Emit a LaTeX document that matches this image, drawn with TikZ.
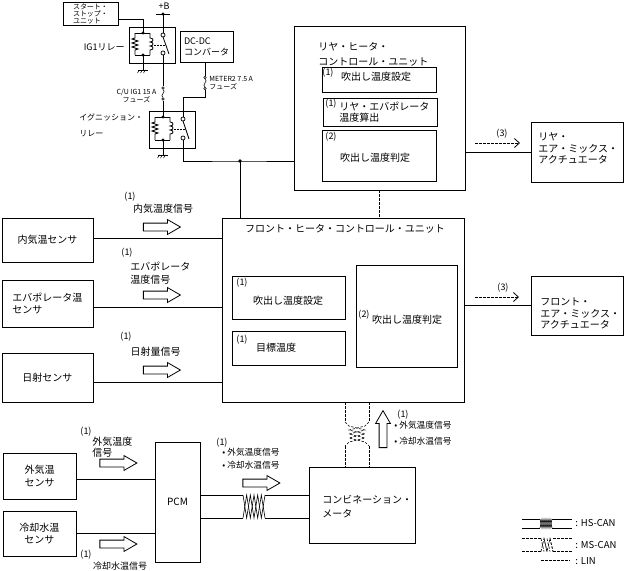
\documentclass[tikz,border=0pt]{standalone}
\usepackage{fontspec}
\setmainfont{Noto Sans CJK JP}
\usetikzlibrary{shapes.arrows}
\usetikzlibrary{arrows.meta}

\begin{document}
\begin{tikzpicture}[x=1pt, y=-1pt, line width=0.8pt, font=\fontsize{10}{12}\selectfont]
	\tikzstyle{boxStyle}=[draw, line width=0.9pt, inner sep=0pt, align=left]
	\tikzstyle{textStyle}=[inner sep=0pt, align=left]
	\tikzstyle{tagStyle}=[inner sep=0pt, font=\fontsize{9}{10}\selectfont]
	\tikzstyle{bulletStyle}=[inner sep=0pt, align=left, font=\fontsize{8.7}{13}\selectfont]
	\tikzstyle{relayText}=[inner sep=0pt, align=left, font=\fontsize{8}{10}\selectfont]
	\tikzstyle{fuseText}=[inner sep=0pt, align=left, font=\fontsize{7}{8}\selectfont]
	\tikzstyle{contactStyle}=[circle, draw, fill=white, inner sep=0pt, minimum size=4pt, line width=0.7pt]
	\tikzstyle{signalArrow}=[draw, single arrow, minimum height=37pt, inner sep=3.5pt, single arrow head extend=3.5pt, single arrow tip angle=60, line width=0.8pt]
	\tikzstyle{linStyle}=[dash pattern=on 2.5pt off 1.5pt]
	\tikzstyle{twistStyle}=[line width=0.6pt]
	\tikzstyle{outArrow}=[linStyle, -{Straight Barb[length=5pt, width=9pt]}]
	\useasboundingbox (0,0) rectangle (625,571);

	% relays
	\foreach \n/\cx/\ty/\by/\sx in {ig1/143/33/55/163, ign/163/117/140/183}{
		\draw[line width=0.9pt] (\cx-14,\ty-6) rectangle (\sx+12,\by+8);
		\coordinate (\n-top) at (\cx,\ty);
		\coordinate (\n-bot) at (\cx,\by);
		\draw (\cx-8,\ty) -- (\cx+7,\ty);
		\draw (\cx-8,\by) -- (\cx+7,\by);
		\draw (\cx-8,\ty) -- (\cx-8,\ty+5) -- (\cx-11,\ty+6) -- (\cx-5,\ty+8) -- (\cx-11,\ty+10) -- (\cx-5,\ty+12) -- (\cx-11,\ty+14) -- (\cx-5,\ty+16) -- (\cx-8,\ty+17) -- (\cx-8,\by);
		\draw (\cx+7,\ty) -- (\cx+7,\ty+5) .. controls (\cx+11,\ty+5) and (\cx+11,\ty+9) .. (\cx+7,\ty+9) .. controls (\cx+11,\ty+9) and (\cx+11,\ty+13) .. (\cx+7,\ty+13) .. controls (\cx+11,\ty+13) and (\cx+11,\ty+17) .. (\cx+7,\ty+17) -- (\cx+7,\by);
		\fill (\n-top) circle (1.6);
		\fill (\n-bot) circle (1.6);
		\draw[dash pattern=on 1.5pt off 1.5pt] (\cx+11,\ty+12) -- (\sx+3,\ty+12);
		\node[contactStyle] (\n-c1) at (\sx,\ty+2) {};
		\node[contactStyle] (\n-c2) at (\sx,\by-2) {};
		\draw (\sx,\ty+4) -- (\sx+6,\by-1);
		\draw (\n-bot) -- (\cx,\by+15);
		\draw (\cx-5,\by+15) -- (\cx+5,\by+15);
		\foreach \h in {0,3,6} \draw[line width=0.5pt] (\cx-3.5+\h,\by+15) -- (\cx-5.5+\h,\by+18);
	}

	% fuses
	\foreach \n/\fx/\fy in {fuseIg/163/88, fuseMeter/205/77.5}{
		\node[contactStyle, minimum size=2.6pt, line width=0.6pt] (\n-a) at (\fx,\fy) {};
		\node[contactStyle, minimum size=2.6pt, line width=0.6pt] (\n-b) at (\fx,\fy+11) {};
		\draw[line width=0.6pt] (\n-a.south) .. controls (\fx+4,\fy+3) and (\fx-4,\fy+8) .. (\n-b.north);
	}

	\node[boxStyle, minimum width=55pt, minimum height=23pt, font=\fontsize{7}{7}\selectfont] (startStop) at (90.5,14) {スタート・\\ストップ・\\ユニット};
	\node[boxStyle, minimum width=53pt, minimum height=31pt, font=\fontsize{9}{11}\selectfont] (dcdc) at (206.5,46.5) {DC-DC\\コンバータ};
	\node[textStyle, font=\fontsize{9}{10}\selectfont, anchor=east] (ig1Label) at (125,47) {IG1リレー};
	\node[relayText, anchor=west] (ignLabel) at (79,125) {イグニッション・\\[6pt]リレー};
	\node[fuseText, align=center] (fuseIgLabel) at (136.5,95.5) {C/U IG1 15 A\\フューズ};
	\node[fuseText, anchor=west] (fuseMeterLabel) at (209,83) {METER2 7.5 A\\フューズ};
	\coordinate (bPlus) at (163,14);
	\node[textStyle, font=\fontsize{9}{10}\selectfont] (bPlusText) at (164,6.5) {+B};
	\draw ([xshift=-7pt]bPlus) -- ([xshift=7pt]bPlus);
	\fill (bPlus) circle (1.6);

	% units
	\node[boxStyle, minimum width=171pt, minimum height=164pt] (rear) at (379.5,108) {};
	\node[textStyle, anchor=west, font=\fontsize{10}{15}\selectfont] (rearTitle) at (318,54.5) {リヤ・ヒータ・\\コントロール・ユニット};
	\node[boxStyle, minimum width=114pt, minimum height=25pt] (rearSet) at (379,79.5) {};
	\node[tagStyle] (rearSetTag) at (328,72.5) {(1)};
	\node[textStyle] (rearSetText) at (376,77) {吹出し温度設定};
	\node[boxStyle, minimum width=114pt, minimum height=28pt] (rearEvap) at (380,112) {};
	\node[tagStyle] (rearEvapTag) at (331,104) {(1)};
	\node[textStyle, anchor=west, font=\fontsize{10}{11}\selectfont] (rearEvapText) at (339,112.5) {リヤ・エバポレータ\\温度算出};
	\node[boxStyle, minimum width=114pt, minimum height=51pt] (rearJudge) at (379,155.5) {};
	\node[tagStyle] (rearJudgeTag) at (331,136.5) {(2)};
	\node[textStyle] (rearJudgeText) at (375,158) {吹出し温度判定};

	\node[boxStyle, minimum width=242pt, minimum height=184pt] (front) at (343,310) {};
	\node[textStyle] (frontTitle) at (345,229) {フロント・ヒータ・コントロール・ユニット};
	\node[boxStyle, minimum width=113pt, minimum height=43pt] (frontSet) at (288.5,297.5) {};
	\node[tagStyle] (frontSetTag) at (242,283) {(1)};
	\node[textStyle] (frontSetText) at (288,301) {吹出し温度設定};
	\node[boxStyle, minimum width=113pt, minimum height=34pt] (frontTarget) at (288.5,348) {};
	\node[tagStyle] (frontTargetTag) at (242,340) {(1)};
	\node[textStyle] (frontTargetText) at (276,348) {目標温度};
	\node[boxStyle, minimum width=101pt, minimum height=102pt] (frontJudge) at (406.5,316) {};
	\node[tagStyle] (frontJudgeTag) at (364,315) {(2)};
	\node[textStyle] (frontJudgeText) at (407,320) {吹出し温度判定};

	\node[boxStyle, minimum width=92pt, minimum height=60pt] (rearMix) at (577,152) {};
	\node[textStyle, anchor=west, font=\fontsize{10}{11.5}\selectfont] (rearMixText) at (538,148.5) {リヤ・\\エア・ミックス・\\アクチュエータ};
	\node[boxStyle, minimum width=92pt, minimum height=59pt] (frontMix) at (577,305.5) {};
	\node[textStyle, anchor=west, font=\fontsize{10}{11.5}\selectfont] (frontMixText) at (540,313.5) {フロント・\\エア・ミックス・\\アクチュエータ};

	% sensors
	\node[boxStyle, minimum width=91pt, minimum height=44pt] (inSensor) at (47.5,240) {内気温センサ};
	\node[boxStyle, minimum width=91pt, minimum height=47pt] (evapSensor) at (47.5,303.5) {エバポレータ温\\センサ};
	\node[boxStyle, minimum width=91pt, minimum height=49pt] (sunSensor) at (47.5,377.5) {日射センサ};
	\node[signalArrow] (inSignal) at (158.5,227) {};
	\node[signalArrow] (evapSignal) at (158.5,295) {};
	\node[signalArrow] (sunSignal) at (158.5,370) {};
	\node[tagStyle] (inSignalTag) at (130,197) {(1)};
	\node[textStyle] (inSignalText) at (163,208.5) {内気温度信号};
	\node[tagStyle] (evapSignalTag) at (127,253) {(1)};
	\node[textStyle, anchor=west, font=\fontsize{10}{13}\selectfont] (evapSignalText) at (130,273.5) {エバポレータ\\温度信号};
	\node[tagStyle] (sunSignalTag) at (126,337) {(1)};
	\node[textStyle] (sunSignalText) at (155.5,352) {日射量信号};

	\node[boxStyle, minimum width=73pt, minimum height=46pt, align=center, font=\fontsize{10}{13}\selectfont] (outSensor) at (39.5,476) {外気温\\センサ};
	\node[boxStyle, minimum width=73pt, minimum height=45pt, align=center] (waterSensor) at (39.5,533.5) {冷却水温\\センサ};
	\node[boxStyle, minimum width=45pt, minimum height=120pt] (pcm) at (177.5,502) {PCM};
	\node[signalArrow] (outSignal) at (115,463) {};
	\node[signalArrow] (waterSignal) at (115,544) {};
	\node[tagStyle] (outSignalTag) at (86,432) {(1)};
	\node[textStyle, anchor=west, font=\fontsize{10}{11}\selectfont] (outSignalText) at (92,447.5) {外気温度\\信号};
	\node[tagStyle] (waterSignalTag) at (86,555) {(1)};
	\node[textStyle, font=\fontsize{9}{10}\selectfont] (waterSignalText) at (120,566.5) {冷却水温信号};

	\node[boxStyle, minimum width=106pt, minimum height=76pt] (meter) at (362,505) {};
	\node[textStyle, anchor=west, font=\fontsize{10}{14}\selectfont] (meterText) at (322,507) {コンビネーション・\\メータ};
	\node[signalArrow] (canSignal) at (258,483) {};
	\node[tagStyle] (canSignalTag) at (222,443) {(1)};
	\node[bulletStyle, anchor=west] (canSignalText) at (222,458.5) {• 外気温度信号\\• 冷却水温信号};
	\node[signalArrow, rotate=90] (meterSignal) at (383,432.5) {};
	\node[tagStyle] (meterSignalTag) at (403,415) {(1)};
	\node[bulletStyle, anchor=west, font=\fontsize{8.7}{16}\selectfont] (meterSignalText) at (394,433) {• 外気温度信号\\• 冷却水温信号};

	% wiring
	\draw (bPlus) -- (ig1-c1.north);
	\draw ([yshift=-5pt]startStop.east) -| (ig1-top);
	\draw (ig1-c2.south) -- (fuseIg-a.north);
	\draw (fuseIg-b.south) -- (ign-top);
	\draw (dcdc.south -| fuseMeter-a) -- (fuseMeter-a.north);
	\coordinate (meterBend) at (205,97);
	\draw (fuseMeter-b.south) -- (meterBend) -| (ign-c1.north);
	\coordinate (ignJoin) at (240,161);
	\draw (ign-c2.south) |- (ignJoin) -- (ignJoin -| rear.west);
	\fill (ignJoin) circle (1.8);
	\draw (ignJoin) -- (ignJoin |- front.north);

	\draw ([yshift=2pt]inSensor.east) -- ([yshift=2pt]inSensor.east -| front.west);
	\draw ([yshift=-3.5pt]evapSensor.east) -- ([yshift=-3.5pt]evapSensor.east -| front.west);
	\draw ([yshift=-4.5pt]sunSensor.east) -- ([yshift=-4.5pt]sunSensor.east -| front.west);
	\draw ([yshift=-3pt]outSensor.east) -- ([yshift=-3pt]outSensor.east -| pcm.west);
	\draw (waterSensor.east) -- (waterSensor.east -| pcm.west);

	\draw (rear.east |- rearMix.west) -- (rearMix.west);
	\draw (front.east |- frontMix.west) -- (frontMix.west);
	\coordinate (rearOutA) at (475,143);
	\coordinate (rearOutB) at (520,143);
	\draw[outArrow] (rearOutA) -- (rearOutB);
	\node[tagStyle] (rearOutTag) at (502,134) {(3)};
	\coordinate (frontOutA) at (475,297);
	\coordinate (frontOutB) at (519,297);
	\draw[outArrow] (frontOutA) -- (frontOutB);
	\node[tagStyle] (frontOutTag) at (503,288) {(3)};
	\draw[linStyle] (rear.south) -- (rear.south |- front.north);

	% HS-CAN
	\coordinate (hsA) at (243,495);
	\coordinate (hsB) at (243,518);
	\coordinate (hsC) at (265,495);
	\coordinate (hsD) at (265,518);
	\draw (pcm.east |- hsA) -- (hsA);
	\draw (pcm.east |- hsB) -- (hsB);
	\draw[twistStyle] (hsA) -- ++(3.67,23) -- ++(3.67,-23) -- ++(3.67,23) -- ++(3.67,-23) -- ++(3.67,23) -- ++(3.67,-23);
	\draw[twistStyle] (hsB) -- ++(3.67,-23) -- ++(3.67,23) -- ++(3.67,-23) -- ++(3.67,23) -- ++(3.67,-23) -- ++(3.67,23);
	\draw (hsC) -- (hsC -| meter.west);
	\draw (hsD) -- (hsD -| meter.west);

	% MS-CAN
	\coordinate (msA) at (345,422);
	\coordinate (msB) at (369,422);
	\coordinate (msC) at (345,446);
	\coordinate (msD) at (369,446);
	\draw[linStyle] (front.south -| msA) -- (msA);
	\draw[linStyle] (front.south -| msB) -- (msB);
	\draw[linStyle, twistStyle] (msA) -- ++(4,4) -- ++(16,4) -- ++(-16,4) -- ++(16,4) -- ++(-16,4) -- ++(-4,4);
	\draw[linStyle, twistStyle] (msB) -- ++(-4,4) -- ++(-16,4) -- ++(16,4) -- ++(-16,4) -- ++(16,4) -- ++(4,4);
	\draw[linStyle] (msC) -- (msC |- meter.north);
	\draw[linStyle] (msD) -- (msD |- meter.north);

	% legend
	\coordinate (legHsA) at (522,519);
	\coordinate (legHsB) at (522,528);
	\draw (legHsA) -- ++(18,0);
	\draw (legHsB) -- ++(18,0);
	\draw[twistStyle] (legHsA) ++(18,0) -- ++(2,9) -- ++(2,-9) -- ++(2,9) -- ++(2,-9) -- ++(2,9) -- ++(2,-9);
	\draw[twistStyle] (legHsB) ++(18,0) -- ++(2,-9) -- ++(2,9) -- ++(2,-9) -- ++(2,9) -- ++(2,-9) -- ++(2,9);
	\draw (legHsA) ++(30,0) -- ++(20,0);
	\draw (legHsB) ++(30,0) -- ++(20,0);
	\node[textStyle, anchor=west, font=\fontsize{9.5}{10}\selectfont] (legHsText) at (575,523.5) {: HS-CAN};
	\coordinate (legMsA) at (522,538.5);
	\coordinate (legMsB) at (522,551.5);
	\draw[linStyle] (legMsA) -- ++(19,0);
	\draw[linStyle] (legMsB) -- ++(19,0);
	\draw[linStyle, twistStyle] (legMsA) ++(19,0) -- ++(3,13) ++(0,-13) -- ++(3,13) ++(0,-13) -- ++(3,13) ++(0,-13) -- ++(3,13);
	\draw[linStyle, twistStyle] (legMsB) ++(19,0) -- ++(3,-13) -- ++(3,13) -- ++(3,-13) -- ++(3,13);
	\draw[linStyle] (legMsA) ++(31,0) -- ++(19,0);
	\draw[linStyle] (legMsB) ++(31,0) -- ++(19,0);
	\node[textStyle, anchor=west, font=\fontsize{9.5}{10}\selectfont] (legMsText) at (575,545) {: MS-CAN};
	\coordinate (legLin) at (541,560.5);
	\draw[linStyle] (legLin) -- ++(29,0);
	\node[textStyle, anchor=west, font=\fontsize{9.5}{10}\selectfont] (legLinText) at (575,561) {: LIN};
\end{tikzpicture}
\end{document}
